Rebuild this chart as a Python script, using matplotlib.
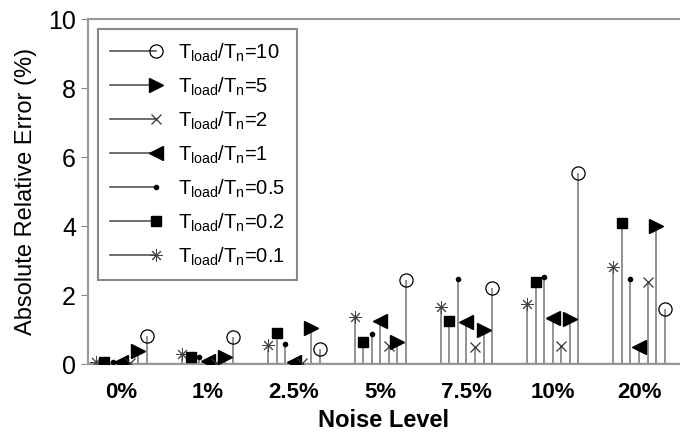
import numpy as np
import matplotlib
matplotlib.use("Agg")
import matplotlib.pyplot as plt
from matplotlib.lines import Line2D

plt.rcParams['font.family'] = ['Liberation Sans', 'DejaVu Sans']
plt.rcParams['mathtext.default'] = 'regular'

# noise levels (x groups)
noise = ['0%', '1%', '2.5%', '5%', '7.5%', '10%', '20%']

# absolute relative error (%) for each Tload/Tn ratio, one value per noise level
err_01 = [0.05, 0.28, 0.55, 1.37, 1.65, 1.73, 2.81]
err_02 = [0.05, 0.22, 0.90, 0.65, 1.25, 2.37, 4.09]
err_05 = [0.05, 0.22, 0.58, 0.87, 2.48, 2.52, 2.46]
err_1 = [0.05, 0.08, 0.05, 1.25, 1.22, 1.33, 0.50]
err_2 = [0.03, 0.03, 0.03, 0.52, 0.50, 0.52, 2.37]
err_5 = [0.38, 0.20, 1.05, 0.63, 0.98, 1.30, 4.00]
err_10 = [0.82, 0.80, 0.43, 2.43, 2.20, 5.54, 1.60]

ratios = ['0.1', '0.2', '0.5', '1', '2', '5', '10']
series = [err_01, err_02, err_05, err_1, err_2, err_5, err_10]

# marker style per ratio: (marker, size, facecolor, edgecolor, edgewidth)
styles = {
    '0.1': ((8, 2, 0), 9, 'k', '#444444', 0.7),
    '0.2': ('s', 7, 'k', 'k', 1.0),
    '0.5': ('o', 3, 'k', 'k', 1.0),
    '1': ('<', 9.5, 'k', 'k', 1.0),
    '2': ('x', 7, 'k', '#333333', 0.9),
    '5': ('>', 9.5, 'k', 'k', 1.0),
    '10': ('o', 9.5, 'none', 'k', 0.9),
}

stem_col = '#8a8a8a'

fig = plt.figure(figsize=(6.8, 4.34), dpi=100)
ax = fig.add_axes([0.129, 0.161, 0.871, 0.795])

xg = np.arange(len(noise))
step = 0.099
for k, (r, vals) in enumerate(zip(ratios, series)):
    xs = xg + (k - 3) * step
    m, ms, fc, ec, mw = styles[r]
    ax.vlines(xs, 0, vals, color=stem_col, lw=1.3, zorder=2)
    ax.plot(xs, vals, ls='none', marker=m, ms=ms, mfc=fc, mec=ec,
            mew=mw, zorder=3)

ax.axhline(0, color='#555555', lw=1.6, zorder=2.5)

ax.set_xlim(-0.39, 6.475)
ax.set_ylim(0, 10)
ax.set_xticks(xg)
ax.set_xticklabels(noise, fontsize=16, fontweight='bold')
ax.set_yticks([0, 2, 4, 6, 8, 10])
ax.tick_params(axis='y', labelsize=18, direction='out', length=5, color='#888888')
ax.tick_params(axis='x', length=0, pad=13)
ax.set_xlabel('Noise Level', fontsize=17, fontweight='bold', labelpad=4)
ax.set_ylabel('Absolute Relative Error (%)', fontsize=17, labelpad=8)

for s in ['left', 'top', 'bottom']:
    ax.spines[s].set_color('#999999')
    ax.spines[s].set_linewidth(1.5)
ax.spines['right'].set_visible(False)


class EndMarker:
    def __init__(self, m, ms, fc, ec, mw):
        self.m, self.ms, self.fc, self.ec, self.mw = m, ms, fc, ec, mw

    def legend_artist(self, legend, orig_handle, fontsize, handlebox):
        x0, y0 = handlebox.xdescent, handlebox.ydescent
        w, h = handlebox.width, handlebox.height
        tr = handlebox.get_transform()
        ln = Line2D([x0, x0 + w], [y0 + h / 2] * 2, color='#555555', lw=1.2,
                    transform=tr)
        mk = Line2D([x0 + w], [y0 + h / 2], ls='none', marker=self.m,
                    ms=self.ms, mfc=self.fc, mec=self.ec, mew=self.mw,
                    transform=tr)
        handlebox.add_artist(ln)
        handlebox.add_artist(mk)
        return ln


order = ['10', '5', '2', '1', '0.5', '0.2', '0.1']
handles = []
labels = []
hmap = {}
for r in order:
    h = Line2D([], [])
    handles.append(h)
    labels.append(r'T$_{load}$/T$_{n}$=' + r)
    hmap[h] = EndMarker(*styles[r])

leg = ax.legend(handles, labels, handler_map=hmap, loc='upper left',
                bbox_to_anchor=(0.017, 0.97), borderaxespad=0, fontsize=14.5,
                fancybox=False, framealpha=1, edgecolor='#888888',
                handlelength=2.3, handletextpad=1.1, labelspacing=0.58,
                borderpad=0.6)
leg.get_frame().set_linewidth(1.5)

fig.savefig('out.png', dpi=100)
